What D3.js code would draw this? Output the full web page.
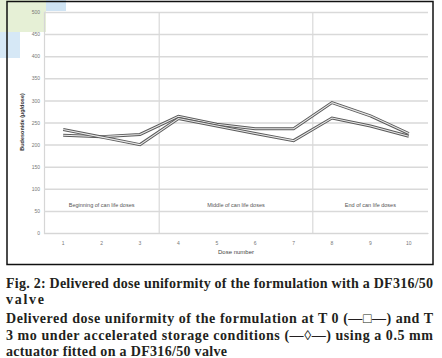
<!DOCTYPE html>
<html><head><meta charset="utf-8">
<script src="https://cdn.jsdelivr.net/npm/d3@7"></script>
<style>
html,body{margin:0;padding:0;background:#fff;}
svg{display:block;}
</style></head>
<body>
<svg id="c" width="442" height="358"></svg>
<script>
const doses = ["1","2","3","4","5","6","7","8","9","10"];
const seriesT3 = [221, 218, 223, 264, 246, 236, 236, 295, 265, 225];
const seriesT0 = [234, 217, 200, 259, 242, 225, 209, 260, 242, 219];
const yTicks = [0,50,100,150,200,250,300,350,400,450,500];
const phaseLabels = ["Beginning of can life doses","Middle of can life doses","End of can life doses"];
const phaseStarts = ["1","4","8"];
const phaseEnds = ["3","7","10"];
const yTitle = "Budesonide (µg/dose)";
const xTitle = "Dose number";
const captionLines = [
  "Fig. 2: Delivered dose uniformity of the formulation with a DF316/50",
  "valve",
  "Delivered dose uniformity of the formulation at T 0 (\u2014\u25a1\u2014) and T",
  "3 mo under accelerated storage conditions (\u2014\u25ca\u2014) using a 0.5 mm",
  "actuator fitted on a DF316/50 valve"
];

const svg = d3.select("#c");
// decorative corner
svg.append("rect").attr("x",0).attr("y",0).attr("width",46).attr("height",32).attr("fill","#e6f0d6");
svg.append("rect").attr("x",46).attr("y",0).attr("width",20).attr("height",11).attr("fill","#cfe3f3");
svg.append("rect").attr("x",0).attr("y",32).attr("width",20).attr("height",26).attr("fill","#d6e8f6");

// frame
svg.append("rect").attr("x",7).attr("y",1.5).attr("width",426).attr("height",263)
  .attr("fill","none").attr("stroke","#111").attr("stroke-width",1.5);

const L=44, R=428, T=12, B=233;
const x = d3.scaleBand().domain(doses).range([L,R]);
const y = d3.scaleLinear().domain([0,500]).range([B,T]);
const cx = d => x(d)+x.bandwidth()/2;

// y axis + grid
const gy = svg.append("g").attr("transform",`translate(${L},0)`)
  .call(d3.axisLeft(y).tickValues(yTicks).tickSize(-(R-L)).tickPadding(4));
gy.select(".domain").attr("stroke","#d6d6d6").attr("stroke-width",1.2);
gy.selectAll(".tick line").attr("stroke","#d9d9d9").attr("stroke-width",1.5);
gy.selectAll(".tick text").attr("fill","#777").style("font","5px Arial, 'Liberation Sans', sans-serif");

// dividers
[phaseStarts[1], phaseStarts[2]].forEach(d=>{
  svg.append("line").attr("x1",x(d)).attr("x2",x(d)).attr("y1",T).attr("y2",B)
    .attr("stroke","#d9d9d9").attr("stroke-width",1.2);
});

// x axis
const gx = svg.append("g").attr("transform",`translate(0,${B})`)
  .call(d3.axisBottom(x).tickSize(0).tickPadding(8));
gx.select(".domain").attr("stroke","#d6d6d6").attr("stroke-width",1.2);
gx.selectAll(".tick text").attr("fill","#777").style("font","5px Arial, 'Liberation Sans', sans-serif");

svg.append("text").attr("x",(L+R)/2).attr("y",254).attr("text-anchor","middle")
  .attr("fill","#444").style("font","6px Arial, 'Liberation Sans', sans-serif").text(xTitle);
svg.append("text").attr("transform","translate(24,122) rotate(-90)").attr("text-anchor","middle")
  .attr("fill","#333").style("font","bold 5.5px Arial, 'Liberation Sans', sans-serif").text(yTitle);

// phase labels
phaseLabels.forEach((t,i)=>{
  const mid = (cx(phaseStarts[i])+cx(phaseEnds[i]))/2;
  svg.append("text").attr("x",mid).attr("y",207).attr("text-anchor","middle")
    .attr("fill","#555").style("font","5.5px Arial, 'Liberation Sans', sans-serif").text(t);
});

// lines (double-stroke look)
const line = d3.line().x((d,i)=>cx(doses[i])).y(d=>y(d));
[seriesT3, seriesT0].forEach(s=>{
  svg.append("path").attr("d",line(s)).attr("fill","none").attr("stroke","#5a5a5a").attr("stroke-width",3).attr("stroke-linejoin","miter");
  svg.append("path").attr("d",line(s)).attr("fill","none").attr("stroke","#e8e8e8").attr("stroke-width",1.1);
});

// caption
const cap = svg.append("g").style("font-family","'Liberation Serif','DejaVu Serif',serif").attr("fill","#231f20");
const baselines = [288, 304, 323, 340, 356];
const widths = [427, 38, 427, 427, 221];
captionLines.forEach((t,i)=>{
  cap.append("text").attr("x",6).attr("y",baselines[i])
    .style("font-size","14px").style("font-weight","bold").text(t)
    .attr("textLength",widths[i]).attr("lengthAdjust","spacing");
});
</script>
</body></html>
